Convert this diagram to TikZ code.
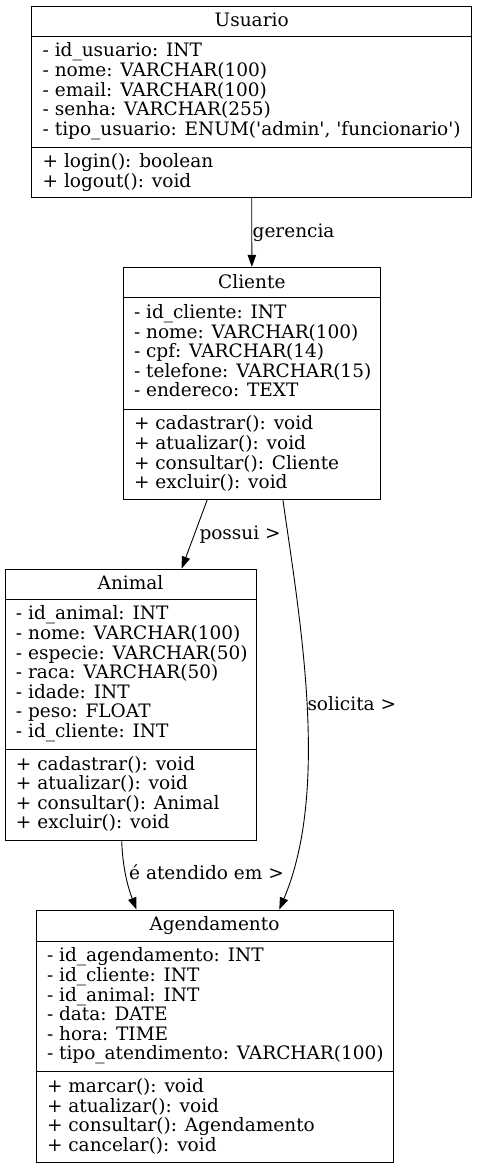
\documentclass[tikz,border=0pt]{standalone}
\usepackage{fontspec}
\setmainfont{DejaVu Serif}
\usetikzlibrary{arrows.meta}

\tikzset{
  classbox/.style={draw, rectangle, inner sep=0pt, line width=0.9pt},
  divider/.style={line width=0.9pt},
  title/.style={anchor=base, inner sep=0pt},
  member/.style={anchor=base west, inner sep=0pt},
  assoc/.style={-{Triangle[length=12pt,width=8.5pt]}, line width=0.9pt},
  rolelabel/.style={anchor=base west, inner sep=0pt}
}

\begin{document}
\begin{tikzpicture}[x=1pt, y=-1pt, font=\fontsize{18.5}{19.6}\selectfont]
\useasboundingbox[fill=white] (0, 0) rectangle (477, 1168);

\node[classbox, minimum width=440pt, minimum height=191.7pt] (usuario) at (251.7, 101.85) {};
\draw[divider] (usuario.west |- 0,36) -- (usuario.east |- 0,36);
\draw[divider] (usuario.west |- 0,147) -- (usuario.east |- 0,147);

\node[title] (usuario-title) at (251.7, 26) {Usuario};
\node[member] (usuario-a1) at (42.5, 56.8) {- id\_usuario: INT};
\node[member] (usuario-a2) at (42.5, 76.4) {- nome: VARCHAR(100)};
\node[member] (usuario-a3) at (42.5, 96.0) {- email: VARCHAR(100)};
\node[member] (usuario-a4) at (42.5, 115.6) {- senha: VARCHAR(255)};
\node[member] (usuario-a5) at (42.5, 135.2) {- tipo\_usuario: ENUM(\textquotesingle admin\textquotesingle, \textquotesingle funcionario\textquotesingle)};
\node[member] (usuario-m1) at (42.5, 167.8) {+ login(): boolean};
\node[member] (usuario-m2) at (42.5, 187.4) {+ logout(): void};

\node[classbox, minimum width=257.7pt, minimum height=231.7pt] (cliente) at (251.85, 383.15) {};
\draw[divider] (cliente.west |- 0,297.7) -- (cliente.east |- 0,297.7);
\draw[divider] (cliente.west |- 0,409) -- (cliente.east |- 0,409);

\node[title] (cliente-title) at (251.85, 288) {Cliente};
\node[member] (cliente-a1) at (133.8, 318.5) {- id\_cliente: INT};
\node[member] (cliente-a2) at (133.8, 338.1) {- nome: VARCHAR(100)};
\node[member] (cliente-a3) at (133.8, 357.7) {- cpf: VARCHAR(14)};
\node[member] (cliente-a4) at (133.8, 377.3) {- telefone: VARCHAR(15)};
\node[member] (cliente-a5) at (133.8, 396.9) {- endereco: TEXT};
\node[member] (cliente-m1) at (133.8, 429.8) {+ cadastrar(): void};
\node[member] (cliente-m2) at (133.8, 449.4) {+ atualizar(): void};
\node[member] (cliente-m3) at (133.8, 469.0) {+ consultar(): Cliente};
\node[member] (cliente-m4) at (133.8, 488.6) {+ excluir(): void};

\node[classbox, minimum width=251pt, minimum height=271.7pt] (animal) at (130.5, 704.85) {};
\draw[divider] (animal.west |- 0,599) -- (animal.east |- 0,599);
\draw[divider] (animal.west |- 0,749.3) -- (animal.east |- 0,749.3);

\node[title] (animal-title) at (130.5, 589.5) {Animal};
\node[member] (animal-a1) at (15.8, 619.8) {- id\_animal: INT};
\node[member] (animal-a2) at (15.8, 639.4) {- nome: VARCHAR(100)};
\node[member] (animal-a3) at (15.8, 659.0) {- especie: VARCHAR(50)};
\node[member] (animal-a4) at (15.8, 678.6) {- raca: VARCHAR(50)};
\node[member] (animal-a5) at (15.8, 698.2) {- idade: INT};
\node[member] (animal-a6) at (15.8, 717.8) {- peso: FLOAT};
\node[member] (animal-a7) at (15.8, 737.4) {- id\_cliente: INT};
\node[member] (animal-m1) at (15.8, 770.1) {+ cadastrar(): void};
\node[member] (animal-m2) at (15.8, 789.7) {+ atualizar(): void};
\node[member] (animal-m3) at (15.8, 809.3) {+ consultar(): Animal};
\node[member] (animal-m4) at (15.8, 828.9) {+ excluir(): void};

\node[classbox, minimum width=357pt, minimum height=252pt] (agendamento) at (214.5, 1036) {};
\draw[divider] (agendamento.west |- 0,941) -- (agendamento.east |- 0,941);
\draw[divider] (agendamento.west |- 0,1071.7) -- (agendamento.east |- 0,1071.7);

\node[title] (agendamento-title) at (214.5, 930.5) {Agendamento};
\node[member] (agendamento-a1) at (46.8, 961.8) {- id\_agendamento: INT};
\node[member] (agendamento-a2) at (46.8, 981.4) {- id\_cliente: INT};
\node[member] (agendamento-a3) at (46.8, 1001.0) {- id\_animal: INT};
\node[member] (agendamento-a4) at (46.8, 1020.6) {- data: DATE};
\node[member] (agendamento-a5) at (46.8, 1040.2) {- hora: TIME};
\node[member] (agendamento-a6) at (46.8, 1059.8) {- tipo\_atendimento: VARCHAR(100)};
\node[member] (agendamento-m1) at (46.8, 1092.5) {+ marcar(): void};
\node[member] (agendamento-m2) at (46.8, 1112.1) {+ atualizar(): void};
\node[member] (agendamento-m3) at (46.8, 1131.7) {+ consultar(): Agendamento};
\node[member] (agendamento-m4) at (46.8, 1151.3) {+ cancelar(): void};

\draw[assoc] (usuario.south) -- (cliente.north);
\draw[assoc] ([xshift=-44.5pt]cliente.south) -- ([xshift=51.2pt]animal.north);
\draw[assoc] ([xshift=31pt]cliente.south) .. controls (300, 620) and (330, 790) .. ([xshift=64.8pt]agendamento.north);
\draw[assoc] ([xshift=-8.8pt]animal.south) .. controls (122.5, 865) and (127, 885) .. ([xshift=-78pt]agendamento.north);

\node[rolelabel] (gerencia) at (252.5, 237.5) {gerencia};
\node[rolelabel] (possui) at (199.3, 539) {possui >};
\node[rolelabel] (solicita) at (307.3, 710) {solicita >};
\node[rolelabel] (atendido) at (129, 879.3) {é atendido em >};

\end{tikzpicture}
\end{document}
